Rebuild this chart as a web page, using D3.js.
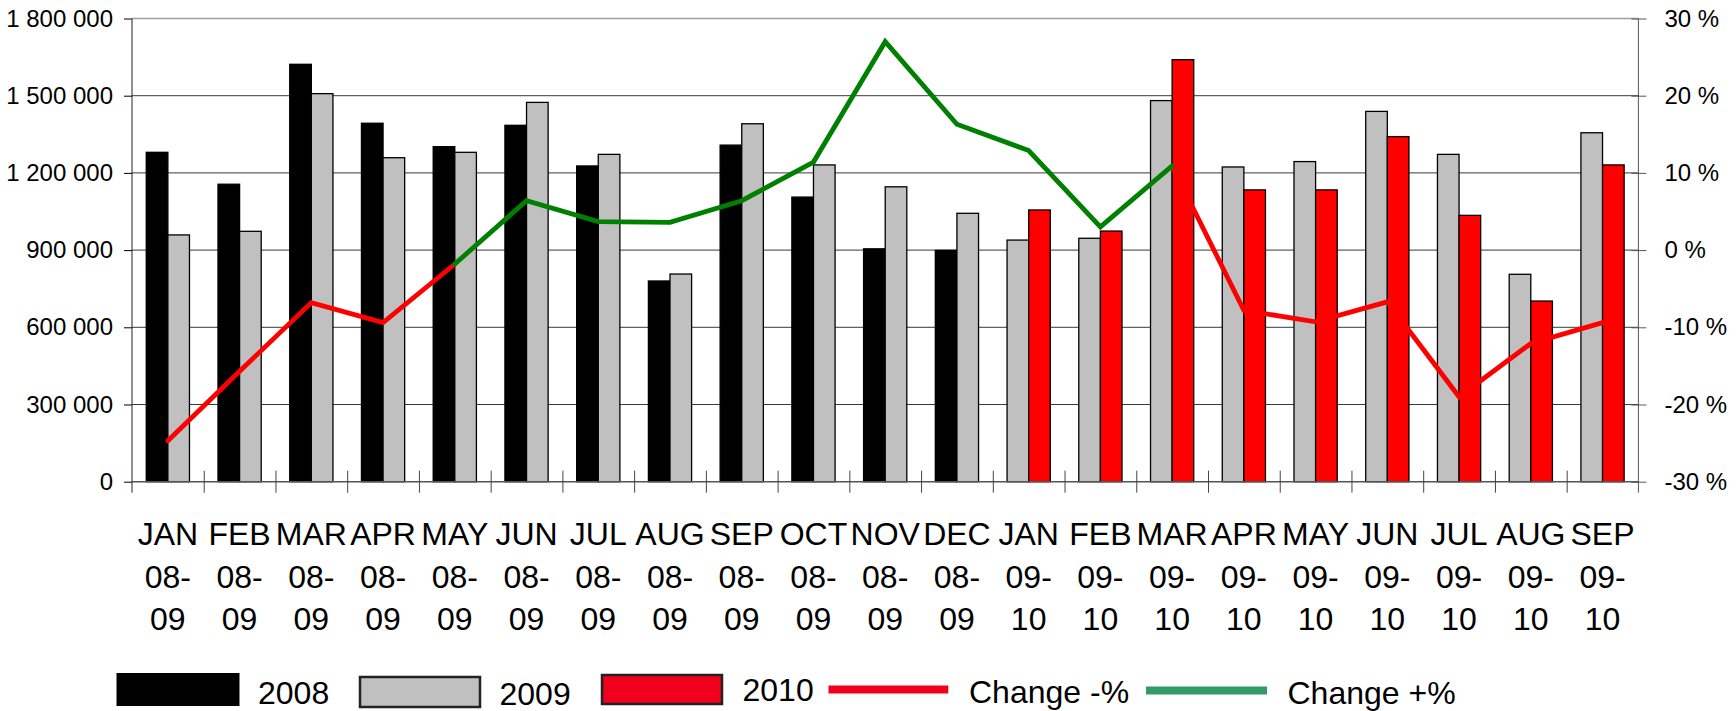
<!DOCTYPE html>
<html>
<head>
<meta charset="utf-8">
<script src="https://cdn.jsdelivr.net/npm/d3@7"></script>
<style>
  body { margin: 0; background: #fff; }
  svg { display: block; font-family: "Liberation Sans", Arial, sans-serif; }
</style>
</head>
<body>
<svg width="1736" height="711"></svg>
<script>
// categories: month + season pair
var categories = ["JAN 08-09", "FEB 08-09", "MAR 08-09", "APR 08-09", "MAY 08-09", "JUN 08-09",
                  "JUL 08-09", "AUG 08-09", "SEP 08-09", "OCT 08-09", "NOV 08-09", "DEC 08-09",
                  "JAN 09-10", "FEB 09-10", "MAR 09-10", "APR 09-10", "MAY 09-10", "JUN 09-10",
                  "JUL 09-10", "AUG 09-10", "SEP 09-10"];

var sales2008 = [1280000, 1156000, 1622000, 1393000, 1302000, 1385000, 1227000, 780000, 1308000,
                 1106000, 905000, 899000, null, null, null, null, null, null, null, null, null];
var sales2009 = [959000, 973000, 1508000, 1259000, 1280000, 1474000, 1272000, 807000, 1391000,
                 1231000, 1146000, 1043000, 939000, 946000, 1481000, 1223000, 1244000, 1439000,
                 1272000, 806000, 1356000];
var sales2010 = [null, null, null, null, null, null, null, null, null, null, null, null,
                 1056000, 974000, 1640000, 1134000, 1134000, 1341000, 1035000, 702000, 1231000];

// change in %, split into a falling and a rising series
var changeNeg = [-24.7, -15.7, -6.8, -9.4, -1.8, null, null, null, null, null, null, null,
                 null, null, 10.9, -7.8, -9.3, -6.7, -19.0, -12.1, -9.4];
var changePos = [null, null, null, null, -1.8, 6.4, 3.7, 3.6, 6.4, 11.4, 27.0, 16.3,
                 12.9, 3.0, 10.9, null, null, null, null, null, null];

var salesTicks = [0, 300000, 600000, 900000, 1200000, 1500000, 1800000];
var pctTicks = [-30, -20, -10, 0, 10, 20, 30];

function main() {
    var svg = d3.select("svg");
    var left = 132, right = 1638.4, top = 18.5, bottom = 481.7;

    var xScale = d3.scaleBand().domain(categories).range([left, right]).padding(0);
    var slot = d3.scaleBand().domain(["prev", "curr"]).range([0, xScale.bandwidth()])
                 .paddingInner(0).paddingOuter(0.66);
    var xIdx = d3.scaleLinear().domain([0, categories.length]).range([left, right]);
    var yScale = d3.scaleLinear().domain([0, 1800000]).range([bottom, top]);
    var yPct = d3.scaleLinear().domain([-30, 30]).range([bottom, top]);

    var fmt = d3.formatLocale({ decimal: ",", thousands: " ", grouping: [3], currency: ["", ""] }).format(",d");

    // gridlines
    svg.append("g").selectAll("line")
       .data(salesTicks.slice(1))
       .enter().append("line")
       .attr("x1", left).attr("x2", right)
       .attr("y1", function(d) { return yScale(d); })
       .attr("y2", function(d) { return yScale(d); })
       .attr("stroke", function(d) { return d === 1800000 ? "#a0a0a0" : "#3a3a3a"; })
       .attr("stroke-width", function(d) { return d === 1800000 ? 1.5 : 1; });

    // bars
    var bars = [];
    categories.forEach(function(c, i) {
        if (sales2008[i] != null) {
            bars.push({ cat: c, slot: "prev", v: sales2008[i], fill: "#000000", stroke: "#000" });
            bars.push({ cat: c, slot: "curr", v: sales2009[i], fill: "#c0c0c0", stroke: "#000" });
        } else {
            bars.push({ cat: c, slot: "prev", v: sales2009[i], fill: "#c0c0c0", stroke: "#000" });
            bars.push({ cat: c, slot: "curr", v: sales2010[i], fill: "#ff0000", stroke: "#000" });
        }
    });

    svg.append("g").selectAll("rect")
       .data(bars)
       .enter().append("rect")
       .attr("x", function(d) { return xScale(d.cat) + slot(d.slot); })
       .attr("y", function(d) { return yScale(d.v); })
       .attr("width", slot.bandwidth())
       .attr("height", function(d) { return bottom - yScale(d.v); })
       .attr("fill", function(d) { return d.fill; })
       .attr("stroke", function(d) { return d.stroke; })
       .attr("stroke-width", 1.3);

    // axes
    var gl = svg.append("g")
       .attr("transform", "translate(" + left + ",0)")
       .call(d3.axisLeft(yScale).tickValues(salesTicks).tickFormat(fmt).tickSize(8).tickSizeOuter(0).tickPadding(11));
    gl.select(".domain").attr("d", "M0," + top + "V" + (bottom + 11)).attr("stroke", "#222");

    var gr = svg.append("g")
       .attr("transform", "translate(" + right + ",0)")
       .call(d3.axisRight(yPct).tickValues(pctTicks).tickFormat(function(d) { return d + " %"; })
             .tickSize(8).tickSizeOuter(0).tickPadding(18));
    gr.select(".domain").attr("d", "M0," + top + "V" + (bottom + 11)).attr("stroke", "#555");
    gr.selectAll(".tick line").attr("x1", -7).attr("x2", 8).attr("stroke", "#555");

    var gb = svg.append("g")
       .attr("transform", "translate(0," + bottom + ")")
       .call(d3.axisBottom(xIdx).tickValues(d3.range(1, categories.length)).tickFormat("").tickSizeOuter(0));
    gb.select(".domain").attr("d", "M" + left + ",0H" + right).attr("stroke", "#555").attr("stroke-width", 1.5);
    gb.selectAll(".tick line").attr("y1", -11).attr("y2", 11).attr("stroke", "#444");

    svg.selectAll(".tick text").attr("font-size", "24px").attr("font-family", "Liberation Sans, Arial, sans-serif").attr("fill", "#000");

    // category labels, wrapped on three lines
    var lab = svg.append("g").selectAll("text")
       .data(categories)
       .enter().append("text")
       .attr("text-anchor", "middle")
       .attr("font-size", "32px")
       .attr("fill", "#000");
    lab.each(function(c) {
        var parts = c.split(" ");
        var yrs = parts[1].split("-");
        var t = d3.select(this);
        var cx = xScale(c) + xScale.bandwidth() / 2;
        [parts[0], yrs[0] + "-", yrs[1]].forEach(function(s, k) {
            t.append("tspan").attr("x", cx).attr("y", 545 + k * 42.5).text(s);
        });
    });

    // change lines
    var line = d3.line()
       .defined(function(d) { return d != null; })
       .x(function(d, i) { return xScale(categories[i]) + xScale.bandwidth() / 2; })
       .y(function(d) { return yPct(d); });

    svg.append("path").datum(changeNeg)
       .attr("d", line).attr("fill", "none").attr("stroke", "#ff0000")
       .attr("stroke-width", 4.8).attr("stroke-linejoin", "miter").attr("stroke-linecap", "round");
    svg.append("path").datum(changePos)
       .attr("d", line).attr("fill", "none").attr("stroke", "#008000")
       .attr("stroke-width", 4.8).attr("stroke-linejoin", "miter").attr("stroke-linecap", "round");

    // legend
    var lg = svg.append("g").attr("font-size", "32px").attr("fill", "#000");
    lg.append("rect").attr("x", 116.5).attr("y", 673).attr("width", 123).attr("height", 33).attr("fill", "#000");
    lg.append("text").attr("x", 258).attr("y", 704).text("2008");
    lg.append("rect").attr("x", 360).attr("y", 677).attr("width", 120).attr("height", 30)
      .attr("fill", "#c0c0c0").attr("stroke", "#222").attr("stroke-width", 2.5);
    lg.append("text").attr("x", 499.5).attr("y", 705).text("2009");
    lg.append("rect").attr("x", 602).attr("y", 675).attr("width", 120).attr("height", 29)
      .attr("fill", "#f0001c").attr("stroke", "#222").attr("stroke-width", 2.5);
    lg.append("text").attr("x", 742.5).attr("y", 701).text("2010");
    lg.append("line").attr("x1", 828.5).attr("x2", 948.3).attr("y1", 689.5).attr("y2", 689.5)
      .attr("stroke", "#f0001c").attr("stroke-width", 8);
    lg.append("text").attr("x", 969).attr("y", 703).text("Change -%");
    lg.append("line").attr("x1", 1146).attr("x2", 1267).attr("y1", 690.5).attr("y2", 690.5)
      .attr("stroke", "#339966").attr("stroke-width", 8);
    lg.append("text").attr("x", 1287.5).attr("y", 704).text("Change +%");
}
main();
</script>
</body>
</html>
